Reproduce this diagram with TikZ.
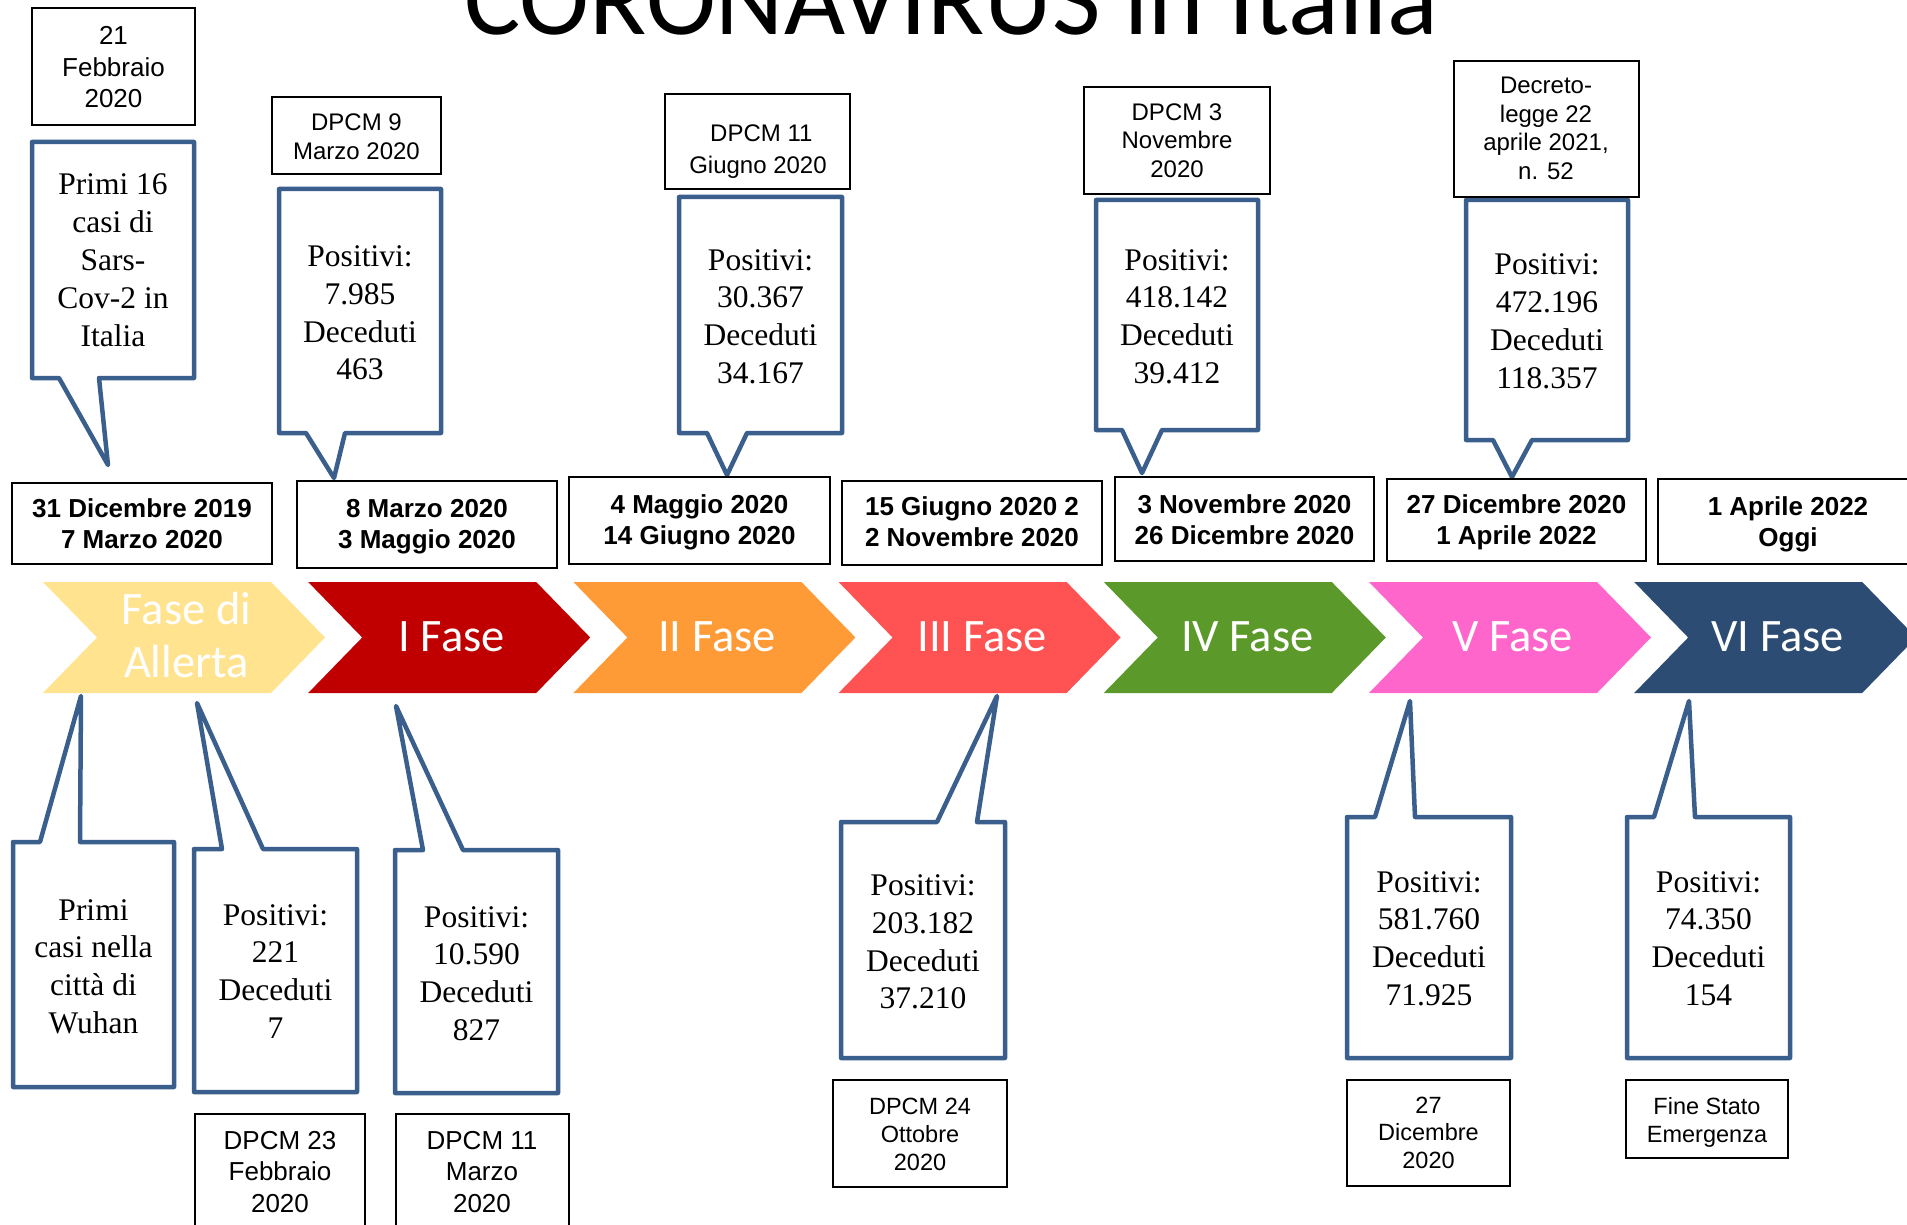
\documentclass[tikz,border=0pt]{standalone}
\usepackage{fontspec}
\setmainfont{Liberation Serif}
\newfontfamily\arialf{Liberation Sans}
\newfontfamily\calibf{Carlito}
\definecolor{cblue}{HTML}{3B5F8D}
\definecolor{cyellow}{HTML}{FFE38F}
\definecolor{cred}{HTML}{C00000}
\definecolor{corange}{HTML}{FF9B37}
\definecolor{clred}{HTML}{FF5252}
\definecolor{cgreen}{HTML}{5B9A2A}
\definecolor{cpink}{HTML}{FF66CC}
\definecolor{cnavy}{HTML}{2C4C74}
\newcommand\ml[1]{\begin{tabular}[t]{@{}c@{}}#1\end{tabular}}
\newcommand\calloutdown[8]{\draw[callout] (#1,#3) -- (#2,#3) -- (#2,#4) -- (#6,#4) -- (#7,#8) -- (#5,#4) -- (#1,#4) -- cycle;}
\newcommand\calloutup[8]{\draw[callout] (#1,#3) -- (#5,#3) -- (#7,#8) -- (#6,#3) -- (#2,#3) -- (#2,#4) -- (#1,#4) -- cycle;}
\newcommand\chev[2]{\fill[#2] (#1,582) -- ++(228,0) -- ++(54,55.5) -- ++(-54,55.5) -- ++(-228,0) -- ++(54,-55.5) -- cycle;}
\begin{document}
\begin{tikzpicture}[x=1pt,y=-1pt,
  callout/.style={draw=cblue, line width=4.5pt, line join=round, fill=white},
  thinbox/.style={draw=black, line width=1.6pt},
  datebox/.style={draw=black, line width=2pt},
  sertxt/.style={font=\fontsize{31.5}{37.8}\selectfont, anchor=base, inner sep=0pt},
  sanstxt/.style={font=\arialf\fontsize{24}{28.5}\selectfont, anchor=base, inner sep=0pt},
  smalltxt/.style={font=\arialf\fontsize{23.5}{27.8}\selectfont, anchor=base, inner sep=0pt},
  bigsans/.style={font=\arialf\fontsize{26}{31.5}\selectfont, anchor=base, inner sep=0pt},
  datetxt/.style={font=\arialf\bfseries\fontsize{26}{31.5}\selectfont, anchor=base, inner sep=0pt},
  fasetxt/.style={font=\calibf\fontsize{46.5}{53}\selectfont, text=white, anchor=base, inner sep=0pt},
  titletxt/.style={font=\calibf\fontsize{105.6}{120}\selectfont, anchor=base, inner sep=0pt}]
\useasboundingbox (0,0) rectangle (1907,1225);
\fill[white] (0,0) rectangle (1907,1225);

% title
\node[titletxt] (title) at (951.5,35) {CORONAVIRUS in Italia};

% chevrons
\chev{43}{cyellow}
\chev{308.2}{cred}
\chev{573.4}{corange}
\chev{838.6}{clred}
\chev{1103.8}{cgreen}
\chev{1369}{cpink}
\chev{1634.2}{cnavy}
\node[fasetxt] (f0) at (186.5,624) {\ml{Fase di\\Allerta}};
\node[fasetxt] (f1) at (451.7,651) {I Fase};
\node[fasetxt] (f2) at (716.9,651) {II Fase};
\node[fasetxt] (f3) at (982.1,651) {III Fase};
\node[fasetxt] (f4) at (1247.3,651) {IV Fase};
\node[fasetxt] (f5) at (1512.5,651) {V Fase};
\node[fasetxt] (f6) at (1777.7,651) {VI Fase};

% top callouts
\calloutdown{32}{194}{142}{378}{59}{99}{108}{465}
\calloutdown{279}{441}{189}{433}{306}{345}{334}{478}
\calloutdown{679}{842}{197}{433}{707}{747}{727}{475}
\calloutdown{1096}{1258}{200}{430}{1122}{1162}{1142}{473}
\calloutdown{1466}{1628}{200}{440}{1493}{1532}{1512}{477}
\node[sertxt] (c1) at (113,195) {\ml{Primi 16\\casi di\\Sars-\\Cov-2 in\\Italia}};
\node[sertxt] (c2) at (360,266.5) {\ml{Positivi:\\7.985\\Deceduti\\463}};
\node[sertxt] (c3) at (760.5,270) {\ml{Positivi:\\30.367\\Deceduti\\34.167}};
\node[sertxt] (c4) at (1177,270) {\ml{Positivi:\\418.142\\Deceduti\\39.412}};
\node[sertxt] (c5) at (1547,275) {\ml{Positivi:\\472.196\\Deceduti\\118.357}};

% top boxes
\draw[thinbox] (32,8) rectangle (195,125);
\node[bigsans] (a1) at (113.5,45) {\ml{21\\Febbraio\\2020}};
\draw[thinbox] (272,97) rectangle (441,174);
\node[sanstxt] (b1) at (356.5,131) {\ml{DPCM 9\\Marzo 2020}};
\draw[thinbox] (665,94) rectangle (850,189);
\node[sanstxt] (b2) at (758,142) {\ml{\ DPCM 11\\[3pt]Giugno 2020}};
\draw[thinbox] (1084,87) rectangle (1270,194);
\node[sanstxt] (b3) at (1177,120.5) {\ml{DPCM 3\\Novembre\\2020}};
\draw[thinbox] (1454,61) rectangle (1639,197);
\node[sanstxt] (b4) at (1546,94) {\ml{Decreto-\\legge 22\\aprile 2021,\\n. 52}};

% date boxes
\draw[datebox] (12,483) rectangle (272,564);
\node[datetxt] (d1) at (142,517) {\ml{31 Dicembre 2019\\7 Marzo 2020}};
\draw[datebox] (297,481) rectangle (557,568);
\node[datetxt] (d2) at (427,517) {\ml{8 Marzo 2020\\3 Maggio 2020}};
\draw[datebox] (569,477) rectangle (830,564);
\node[datetxt] (d3) at (699.5,513) {\ml{4 Maggio 2020\\14 Giugno 2020}};
\draw[datebox] (842,481) rectangle (1102,565);
\node[datetxt] (d4) at (972,515) {\ml{15 Giugno 2020 2\\2 Novembre 2020}};
\draw[datebox] (1115,477) rectangle (1374,561);
\node[datetxt] (d5) at (1244.5,513) {\ml{3 Novembre 2020\\26 Dicembre 2020}};
\draw[datebox] (1387,479) rectangle (1646,561);
\node[datetxt] (d6) at (1516.5,513) {\ml{27 Dicembre 2020\\1 Aprile 2022}};
\draw[datebox] (1658,479) rectangle (1918,564);
\node[datetxt] (d7) at (1788,515) {\ml{1 Aprile 2022\\Oggi}};

% bottom callouts
\calloutup{13}{174}{842}{1087}{40}{80}{81}{696}
\calloutup{194}{357}{849}{1092}{222}{263}{197}{703}
\calloutup{395}{558}{850}{1093}{423}{463}{396}{706}
\calloutup{841}{1005}{822}{1058}{937}{977}{997}{696}
\calloutup{1347}{1511}{817}{1058}{1375}{1415}{1410}{701}
\calloutup{1627}{1790}{817}{1058}{1654}{1695}{1689}{701}
\node[sertxt] (e1) at (93.5,920) {\ml{Primi\\casi nella\\città di\\Wuhan}};
\node[sertxt] (e2) at (275.5,925) {\ml{Positivi:\\221\\Deceduti\\7}};
\node[sertxt] (e3) at (476.5,927) {\ml{Positivi:\\10.590\\Deceduti\\827}};
\node[sertxt] (e4) at (923,895.5) {\ml{Positivi:\\203.182\\Deceduti\\37.210}};
\node[sertxt] (e5) at (1429,892) {\ml{Positivi:\\581.760\\Deceduti\\71.925}};
\node[sertxt] (e6) at (1708.5,892) {\ml{Positivi:\\74.350\\Deceduti\\154}};

% bottom boxes
\draw[thinbox] (195,1114) rectangle (365,1240);
\node[bigsans] (g1) at (280,1149) {\ml{DPCM 23\\Febbraio\\2020}};
\draw[thinbox] (396,1114) rectangle (569,1240);
\node[bigsans] (g2) at (482,1149) {\ml{DPCM 11\\Marzo\\2020}};
\draw[thinbox] (833,1080) rectangle (1007,1187);
\node[smalltxt] (g3) at (920,1114.5) {\ml{DPCM 24\\Ottobre\\2020}};
\draw[thinbox] (1347,1080) rectangle (1510,1186);
\node[smalltxt] (g4) at (1428.5,1113) {\ml{27\\Dicembre\\2020}};
\draw[thinbox] (1626,1080) rectangle (1788,1158);
\node[smalltxt] (g5) at (1707,1114.5) {\ml{Fine Stato\\Emergenza}};
\end{tikzpicture}
\end{document}
